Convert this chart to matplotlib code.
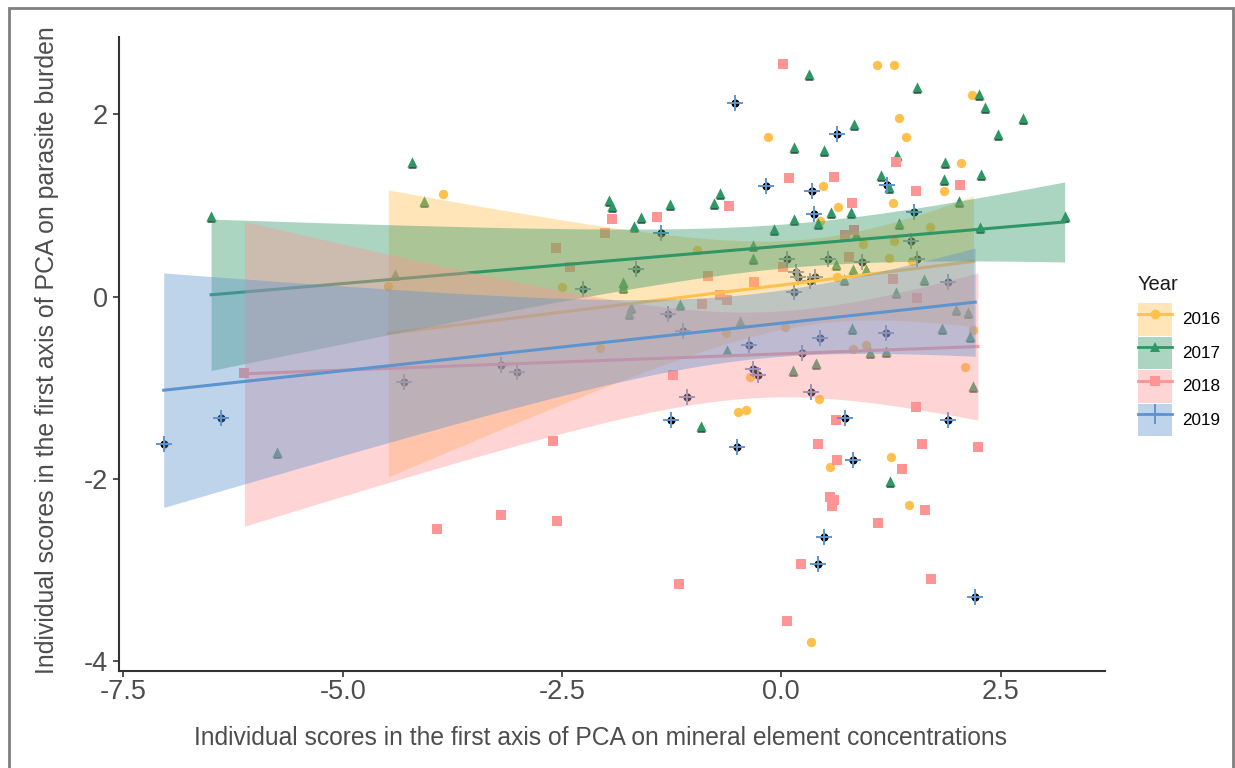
import numpy as np
import matplotlib.pyplot as plt
import matplotlib.transforms as mtransforms
from matplotlib.patches import Patch, Rectangle
from matplotlib.lines import Line2D

plt.rcParams['font.family'] = ['Liberation Sans', 'DejaVu Sans']

# Datos (x = PCA minerales, y = PCA parasitos)
years = ['2016', '2017', '2018', '2019']

x_2016 = [1.09, 1.29, 2.17, 1.34, 1.42, -0.15, 2.05, 0.47, 1.86, 1.27, 0.65, 0.44, -0.96,
          0.93, 1.29, 1.69, 1.23, 0.64, -2.50, 1.49, -0.63, 0.04, 2.19, -2.07, 0.82, 0.96,
          -0.36, 0.43, 2.09, -0.49, -0.40, 0.55, 1.25, 1.45, 0.34, -3.86, -4.48]
y_2016 = [2.54, 2.54, 2.21, 1.96, 1.75, 1.75, 1.47, 1.21, 1.16, 1.03, 0.98, 0.83, 0.51,
          0.58, 0.61, 0.76, 0.42, 0.22, 0.11, 0.39, -0.40, -0.33, -0.37, -0.56, -0.57, -0.53,
          -0.88, -1.12, -0.77, -1.27, -1.24, -1.87, -1.76, -2.29, -3.79, 1.13, 0.12]

x_2017 = [0.32, 1.55, 2.25, 2.32, 2.76, 2.47, 0.83, 0.15, 0.49, 1.32, 1.87, 2.28, 1.86,
          1.14, 1.23, 2.02, 0.57, 0.79, 0.15, 0.42, -0.08, 1.34, 2.27, 3.23, -1.96, -1.93,
          -1.60, -1.68, -1.27, -0.70, -0.77, -0.32, -0.32, 0.62, 0.85, 0.82, 0.97, 0.72,
          -1.80, -1.80, -1.16, 1.31, 1.63, 1.99, 2.13, -1.71, -1.74, -0.47, 0.81, 1.83,
          2.15, -0.62, 1.01, 1.19, 0.40, 0.13, 2.19, -0.91, 1.24, -6.50, -4.21, -4.07,
          -4.40, -5.75]
y_2017 = [2.44, 2.30, 2.22, 2.08, 1.96, 1.79, 1.89, 1.64, 1.61, 1.56, 1.48, 1.35, 1.29,
          1.34, 1.20, 1.05, 0.93, 0.93, 0.85, 0.81, 0.74, 0.81, 0.76, 0.88, 1.06, 1.00,
          0.87, 0.77, 1.02, 1.14, 1.03, 0.57, 0.42, 0.36, 0.69, 0.30, 0.30, 0.19,
          0.16, 0.11, -0.08, 0.05, 0.19, -0.14, -0.17, -0.11, -0.18, -0.27, -0.35, -0.34,
          -0.43, -0.59, -0.61, -0.60, -0.73, -0.81, -0.98, -1.42, -2.02, 0.88, 1.48, 1.05,
          0.25, -1.71]

x_2018 = [0.02, 1.31, 0.09, 0.60, 1.53, 2.04, 0.81, -1.93, -1.42, -0.60, -2.01, -2.41,
          0.77, 0.73, 0.83, 0.02, -0.31, -0.84, -0.70, -0.62, -0.90, 1.27, 1.55, -1.23,
          0.62, 1.54, 0.42, 1.60, 2.24, 0.64, 1.38, 0.55, 0.60, 0.58, 1.64, 1.10, 0.22,
          -1.17, 1.71, 0.06, -2.57, -6.12, -2.60, -3.93, -3.20, -2.56]
y_2018 = [2.55, 1.48, 1.30, 1.31, 1.16, 1.22, 1.03, 0.85, 0.87, 1.00, 0.70, 0.32,
          0.43, 0.68, 0.73, 0.32, 0.16, 0.23, 0.02, -0.04, -0.08, 0.19, -0.02, -0.86,
          -1.35, -1.21, -1.62, -1.62, -1.65, -1.79, -1.89, -2.20, -2.23, -2.30, -2.34, -2.49, -2.94,
          -3.16, -3.10, -3.56, 0.53, -0.84, -1.59, -2.55, -2.40, -2.46]

x_2019 = [-0.53, 0.64, 1.21, -0.17, 0.35, 0.37, 1.51, -1.37, -1.66, 0.07, 0.53, 1.48,
          0.92, 1.55, 0.17, 0.19, 0.38, 0.33, -2.26, 0.14, 1.90, -1.29, -1.12, 1.19,
          0.44, -0.37, 0.24, -0.32, -0.27, -1.07, 0.34, -1.26, -0.50, 0.73, 1.90, 0.82,
          0.49, 0.42, 2.21, -7.04, -6.39, -4.30, -3.20, -3.01]
y_2019 = [2.12, 1.79, 1.22, 1.21, 1.16, 0.91, 0.93, 0.70, 0.30, 0.41, 0.41, 0.61,
          0.38, 0.41, 0.27, 0.22, 0.22, 0.17, 0.08, 0.05, 0.16, -0.19, -0.38, -0.40,
          -0.45, -0.53, -0.62, -0.79, -0.86, -1.10, -1.05, -1.35, -1.65, -1.33, -1.35, -1.79,
          -2.64, -2.94, -3.30, -1.62, -1.33, -0.94, -0.75, -0.83]

xs_all = [x_2016, x_2017, x_2018, x_2019]
ys_all = [y_2016, y_2017, y_2018, y_2019]

colores = ['#FFC04C', '#2F9765', '#FF9494', '#5E94CE']
marcadores = ['o', '^', 's', '+']
tam = [45, 55, 50, 120]


def ajuste_lm(x, y, n=80):
    # recta de minimos cuadrados con intervalo de confianza del 95 %
    x = np.asarray(x)
    y = np.asarray(y)
    b1, b0 = np.polyfit(x, y, 1)
    xg = np.linspace(x.min(), x.max(), n)
    yg = b0 + b1 * xg
    gl = len(x) - 2
    s = np.sqrt(np.sum((y - (b0 + b1 * x)) ** 2) / gl)
    sxx = np.sum((x - x.mean()) ** 2)
    t = 1.96 + 2.4 / gl
    se = s * np.sqrt(1.0 / len(x) + (xg - x.mean()) ** 2 / sxx)
    return xg, yg, yg - t * se, yg + t * se


fig = plt.figure(figsize=(12.35, 7.68), dpi=100)
ax = fig.add_axes([119 / 1235, 97 / 768, (1105 - 119) / 1235, (671 - 37) / 768])

abajo = mtransforms.offset_copy(ax.transData, fig=fig, x=0, y=-2, units='dots')

# capa negra debajo de los puntos
ax.scatter(x_2017, y_2017, s=34, marker='^', color='black', transform=abajo, zorder=1, linewidths=0)
ax.scatter(x_2019, y_2019, s=34, marker='o', color='black', zorder=1, linewidths=0)

for i in range(4):
    if marcadores[i] == '+':
        ax.scatter(xs_all[i], ys_all[i], s=tam[i], marker='+', color=colores[i], linewidths=1.4, zorder=2)
    else:
        ax.scatter(xs_all[i], ys_all[i], s=tam[i], marker=marcadores[i], color=colores[i], linewidths=0, zorder=2)

z = 3
for i in range(4):
    xg, yg, lo, hi = ajuste_lm(xs_all[i], ys_all[i])
    ax.fill_between(xg, lo, hi, color=colores[i], alpha=0.4, linewidth=0, zorder=z)
    ax.plot(xg, yg, color=colores[i], linewidth=2.2, zorder=z + 1)
    z += 2

ax.set_xlim(-7.55, 3.69)
ax.set_ylim(-4.11, 2.85)
ax.set_xticks([-7.5, -5.0, -2.5, 0.0, 2.5])
ax.set_xticklabels(['-7.5', '-5.0', '-2.5', '0.0', '2.5'])
ax.set_yticks([-4, -2, 0, 2])
ax.set_yticklabels(['-4', '-2', '0', '2'])
for lado in ['top', 'right']:
    ax.spines[lado].set_visible(False)
for lado in ['left', 'bottom']:
    ax.spines[lado].set_color('#333333')
    ax.spines[lado].set_linewidth(1.5)
ax.tick_params(axis='both', colors='#333333', labelcolor='#4D4D4D', labelsize=19.5, length=4, width=1.2)
ax.tick_params(axis='y', pad=4)
ax.tick_params(axis='x', pad=2)

fig.text(601 / 1235, 1 - 738 / 768, 'Individual scores in the first axis of PCA on mineral element concentrations',
         ha='center', va='center', fontsize=17.7, color='#4D4D4D')
fig.text(47 / 1235, 1 - 350 / 768, 'Individual scores in the first axis of PCA on parasite burden',
         ha='center', va='center', rotation=90, fontsize=17.9, color='#4D4D4D')

# leyenda
fig.text(1138 / 1235, 1 - 285 / 768, 'Year', ha='left', va='center', fontsize=14.5, color='#1A1A1A')
manijas = []
for i in range(4):
    fondo = Patch(facecolor=colores[i], alpha=0.4, edgecolor='none')
    if marcadores[i] == '+':
        linea = Line2D([], [], color=colores[i], linewidth=2, marker='+', markersize=15, markeredgewidth=1.4)
    else:
        linea = Line2D([], [], color=colores[i], linewidth=2, marker=marcadores[i], markersize=7, markeredgewidth=0)
    manijas.append((fondo, linea))

fig.legend(manijas, years, loc='upper left', bbox_to_anchor=(1138 / 1235, 1 - 303 / 768),
           frameon=False, fontsize=12.3, handlelength=2.0, handleheight=2.55,
           labelspacing=0.06, handletextpad=0.6, borderpad=0, borderaxespad=0)

# marco gris alrededor de la imagen
fig.patches.append(Rectangle((9 / 1235, -0.02), (1233 - 9) / 1235, 1.02 - 8 / 768, transform=fig.transFigure,
                             fill=False, edgecolor='#808080', linewidth=2))

fig.savefig('out.png', dpi=100)
